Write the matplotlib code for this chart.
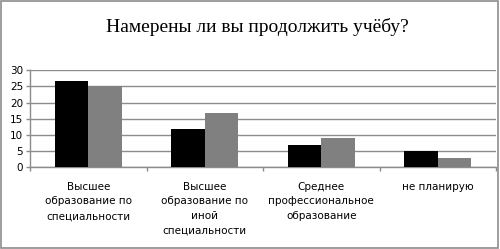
import matplotlib
matplotlib.use("Agg")
import matplotlib.pyplot as plt
from matplotlib.patches import Rectangle
import numpy as np

categories = ["Высшее\nобразование по\nспециальности",
              "Высшее\nобразование по\nиной\nспециальности",
              "Среднее\nпрофессиональное\nобразование",
              "не планирую"]
series1 = [26.7, 11.8, 6.8, 4.9]
series2 = [25.0, 16.8, 9.0, 2.7]
yticks = [0, 5, 10, 15, 20, 25, 30]
title = "Намерены ли вы продолжить учёбу?"

fig = plt.figure(figsize=(5.0, 2.49), dpi=100)
fig.patches.append(Rectangle((0.002, 0.004), 0.994, 0.99, transform=fig.transFigure,
                             fill=False, edgecolor="#8c8c8c", linewidth=1.2))
ax = fig.add_axes([0.06, 0.3293, 0.932, 0.3884])

x = np.arange(len(categories))
w = 1 / 3.5
ax.bar(x - w / 2, series1, width=w, color="black", zorder=3)
ax.bar(x + w / 2, series2, width=w, color="#808080", zorder=3)

ax.set_xlim(-0.5, len(categories) - 0.5)
ax.set_ylim(0, 30)
ax.set_yticks(yticks)
ax.set_yticklabels([str(v) for v in yticks], fontsize=7.5)
ax.yaxis.grid(True, color="#8c8c8c", linewidth=1.0, zorder=0)
ax.tick_params(axis="y", length=3, width=1, color="#8c8c8c", pad=2)

ax.set_xticks(np.arange(len(categories) + 1) - 0.5)
ax.set_xticklabels([])
ax.tick_params(axis="x", length=3, width=1, color="#8c8c8c", direction="out")
for i, lab in enumerate(categories):
    ax.text(i, -0.15, lab, transform=ax.get_xaxis_transform(), ha="center", va="top",
            fontsize=7.5, linespacing=1.6)

for s in ["top", "right"]:
    ax.spines[s].set_visible(False)
for s in ["left", "bottom"]:
    ax.spines[s].set_color("#8c8c8c")
    ax.spines[s].set_linewidth(1.0)

fig.text(0.515, 0.89, title, ha="center", va="center", fontsize=14,
         family="Liberation Serif")

fig.savefig("out.png", dpi=100)
